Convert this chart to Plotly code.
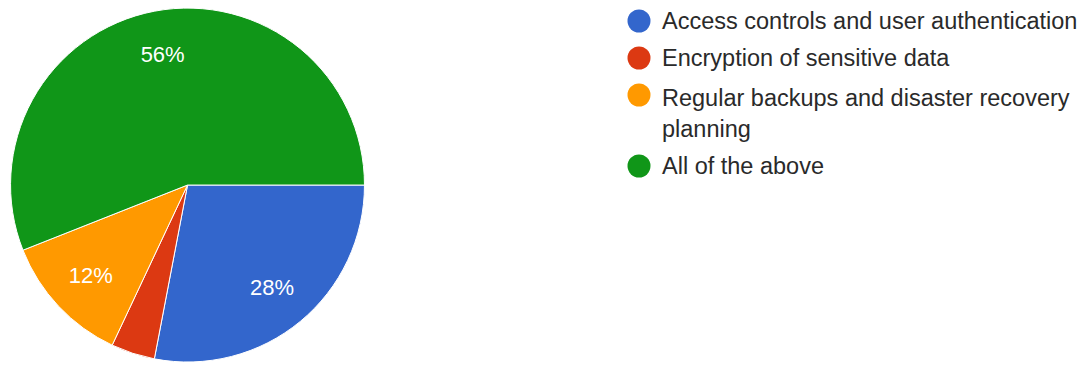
import plotly.graph_objects as go

# Survey responses: which data-protection measures are in place
categories = [
    "Access controls and user authentication",
    "Encryption of sensitive data",
    "Regular backups and disaster recovery<br>planning",
    "All of the above",
]
shares = [28, 4, 12, 56]
colors = ["#3366CC", "#DC3912", "#FF9900", "#109618"]
# Slices below 5% carry no label
slice_text = [f"{v}%" if v >= 5 else "" for v in shares]

W, H = 1088, 367
FONT = "Liberation Sans, Arial, sans-serif"
pie_domain = dict(x=[0.0092, 0.3355], y=[0.0136, 0.978])

fig = go.Figure()

# Filled slices
fig.add_trace(go.Pie(
    values=shares,
    labels=categories,
    textinfo="none",
    marker=dict(colors=colors, line=dict(color="#FFFFFF", width=1)),
    sort=False,
    direction="clockwise",
    rotation=90,
    showlegend=False,
    hoverinfo="label+percent",
    domain=pie_domain,
))

# Transparent ring on top that carries the percentage labels out toward the rim
fig.add_trace(go.Pie(
    values=shares,
    labels=categories,
    hole=0.5,
    text=slice_text,
    textinfo="text",
    textposition="inside",
    insidetextorientation="horizontal",
    textfont=dict(family=FONT, size=22, color="#FFFFFF"),
    marker=dict(colors=["rgba(0,0,0,0)"] * len(shares), line=dict(width=0)),
    sort=False,
    direction="clockwise",
    rotation=90,
    showlegend=False,
    hoverinfo="skip",
    domain=pie_domain,
))

# Legend drawn as round swatches with labels
legend_rows_px = [21, 58, 113, 166]      # vertical centre of each entry
swatch_rows_px = [21, 58, 95, 166]       # swatch sits on the first text line
swatch_x_px, swatch_d = 639, 23
label_x_px = 660

shapes = []
annotations = []
for name, col, ty, sy in zip(categories, colors, legend_rows_px, swatch_rows_px):
    shapes.append(dict(
        type="circle", xref="paper", yref="paper",
        x0=(swatch_x_px - swatch_d / 2) / W, x1=(swatch_x_px + swatch_d / 2) / W,
        y0=1 - (sy + swatch_d / 2) / H, y1=1 - (sy - swatch_d / 2) / H,
        fillcolor=col, line=dict(width=0),
    ))
    annotations.append(dict(
        text=name, xref="paper", yref="paper",
        x=label_x_px / W, y=1 - ty / H,
        xanchor="left", yanchor="middle", align="left",
        showarrow=False,
        font=dict(family=FONT, size=23.5, color="#2A2A2A"),
    ))

fig.update_layout(
    width=W,
    height=H,
    margin=dict(l=0, r=0, t=0, b=0),
    paper_bgcolor="#FFFFFF",
    plot_bgcolor="#FFFFFF",
    shapes=shapes,
    annotations=annotations,
)

fig.write_html("out.html")
